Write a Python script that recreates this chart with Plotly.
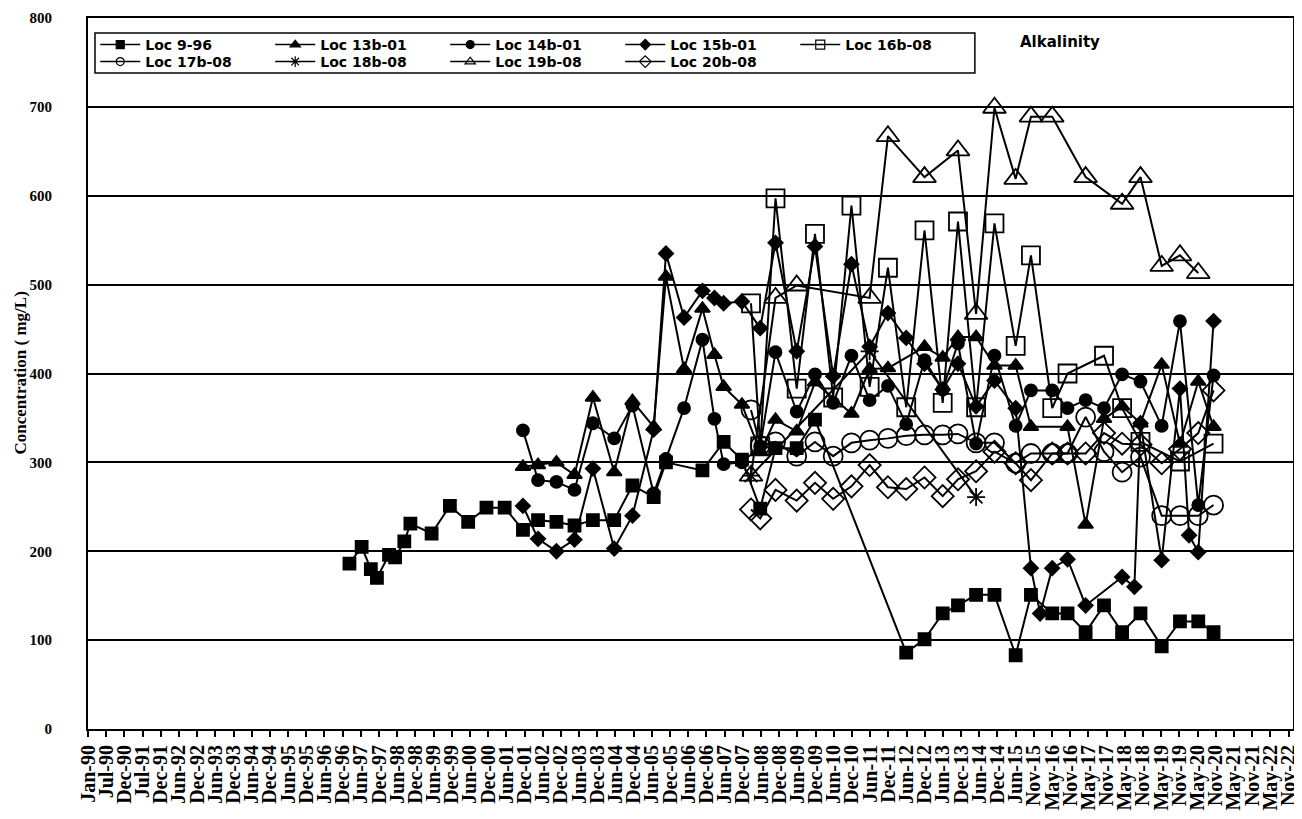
import plotly.graph_objects as go

# ---- data ----
loc9_dates = ["1997-03", "1997-07", "1997-10", "1997-12", "1998-04", "1998-06", "1998-09", "1998-11",
              "1999-06", "1999-12", "2000-06", "2000-12", "2001-06", "2001-12", "2002-05", "2002-11",
              "2003-05", "2003-11", "2004-06", "2004-12", "2005-07", "2005-11", "2006-11", "2007-06",
              "2007-12", "2008-06", "2008-11", "2009-06", "2009-12", "2012-06", "2012-12", "2013-06",
              "2013-11", "2014-05", "2014-11", "2015-06", "2015-11", "2016-06", "2016-11", "2017-05",
              "2017-11", "2018-05", "2018-11", "2019-06", "2019-12", "2020-06", "2020-11"]
loc9_vals = [186, 205, 180, 170, 196, 193, 211, 231, 220, 251, 233, 249, 249, 224, 235, 233,
             229, 235, 235, 274, 261, 300, 291, 323, 303, 248, 316, 316, 348, 86, 101, 130,
             139, 151, 151, 83, 151, 130, 130, 109, 139, 109, 130, 93, 121, 121, 109]

loc13_dates = ["2001-12", "2002-05", "2002-11", "2003-05", "2003-11", "2004-06", "2004-12", "2005-07",
               "2005-11", "2006-05", "2006-11", "2007-03", "2007-06", "2007-12", "2008-06", "2008-11",
               "2009-06", "2009-12", "2010-12", "2011-06", "2011-12", "2012-12", "2013-06", "2013-11",
               "2014-05", "2014-11", "2015-06", "2015-11", "2016-11", "2017-05", "2017-11", "2018-05",
               "2018-11", "2019-06", "2019-12", "2020-06", "2020-11"]
loc13_vals = [295, 297, 300, 286, 373, 289, 369, 340, 509, 405, 473, 421, 385, 365, 312, 348,
              335, 390, 355, 405, 406, 430, 418, 441, 441, 409, 409, 340, 340, 230, 349, 363,
              344, 410, 321, 391, 340]

loc14_dates = ["2001-12", "2002-05", "2002-11", "2003-05", "2003-11", "2004-06", "2004-12", "2005-07",
               "2005-11", "2006-05", "2006-11", "2007-03", "2007-06", "2007-12", "2008-06", "2008-11",
               "2009-06", "2009-12", "2010-06", "2010-12", "2011-06", "2011-12", "2012-06", "2012-12",
               "2013-06", "2013-11", "2014-05", "2014-11", "2015-06", "2015-11", "2016-06", "2016-11",
               "2017-05", "2017-11", "2018-05", "2018-11", "2019-06", "2019-12", "2020-06", "2020-11"]
loc14_vals = [336, 280, 278, 269, 344, 327, 364, 265, 304, 361, 438, 349, 298, 300, 318, 424,
              357, 399, 367, 420, 370, 386, 343, 415, 382, 434, 321, 420, 341, 381, 381, 361,
              370, 361, 399, 391, 341, 459, 252, 398]

loc15_dates = ["2001-12", "2002-05", "2002-11", "2003-05", "2003-11", "2004-06", "2004-12", "2005-07",
               "2005-11", "2006-05", "2006-11", "2007-03", "2007-06", "2007-12", "2008-06", "2008-11",
               "2009-06", "2009-12", "2010-06", "2010-12", "2011-06", "2011-12", "2012-06", "2012-12",
               "2013-06", "2013-11", "2014-05", "2014-11", "2015-06", "2015-11", "2016-02", "2016-06",
               "2016-11", "2017-05", "2018-05", "2018-09", "2018-11", "2019-06", "2019-12", "2020-03",
               "2020-06", "2020-11"]
loc15_vals = [251, 214, 200, 213, 293, 203, 240, 337, 535, 463, 493, 485, 479, 481, 451, 547,
              425, 543, 397, 523, 430, 468, 440, 411, 382, 411, 363, 392, 361, 181, 130, 181,
              191, 139, 171, 160, 344, 190, 383, 218, 199, 459]

loc16_dates = ["2008-03", "2008-06", "2008-11", "2009-06", "2009-12", "2010-06", "2010-12", "2011-06",
               "2011-12", "2012-06", "2012-12", "2013-06", "2013-11", "2014-05", "2014-11", "2015-06",
               "2015-11", "2016-06", "2016-11", "2017-11", "2018-05", "2018-11", "2019-12", "2020-11"]
loc16_vals = [479, 318, 597, 383, 557, 373, 589, 385, 519, 362, 561, 367, 571, 362, 569, 431,
              533, 361, 400, 420, 361, 323, 301, 321]

loc17_dates = ["2008-03", "2008-06", "2008-11", "2009-06", "2009-12", "2010-06", "2010-12", "2011-06",
               "2011-12", "2012-06", "2012-12", "2013-06", "2013-11", "2014-05", "2014-11", "2015-06",
               "2015-11", "2016-06", "2016-11", "2017-05", "2017-11", "2018-05", "2018-11", "2019-06",
               "2019-12", "2020-06", "2020-11"]
loc17_vals = [359, 319, 323, 307, 323, 307, 322, 325, 327, 330, 331, 331, 332, 322, 322, 299,
              310, 310, 310, 351, 312, 289, 306, 240, 240, 240, 252]

loc18_dates = ["2008-03", "2011-06", "2014-05"]
loc18_vals = [285, 425, 261]

loc19_dates = ["2008-03", "2008-11", "2009-06", "2011-06", "2011-12", "2012-12", "2013-11", "2014-05",
               "2014-11", "2015-06", "2015-11", "2016-06", "2017-05", "2018-05", "2018-11", "2019-06",
               "2019-12", "2020-06"]
loc19_vals = [285, 485, 499, 485, 667, 621, 651, 467, 699, 619, 689, 689, 621, 591, 621, 521,
              533, 513]

loc20_dates = ["2008-03", "2008-06", "2008-11", "2009-06", "2009-12", "2010-06", "2010-12", "2011-06",
               "2011-12", "2012-06", "2012-12", "2013-06", "2013-11", "2014-05", "2014-11", "2015-06",
               "2015-11", "2016-06", "2016-11", "2017-05", "2017-11", "2018-05", "2018-11", "2019-06",
               "2019-12", "2020-06", "2020-11"]
loc20_vals = [247, 237, 269, 257, 277, 259, 273, 297, 272, 270, 283, 262, 281, 290, 312, 299,
              280, 310, 310, 310, 333, 321, 320, 299, 315, 333, 381]

# name, dates, values, marker symbol, plot marker size, legend marker size, legend row
series = [
    ("Loc 9-96", loc9_dates, loc9_vals, "square", 12, 8, "legend"),
    ("Loc 13b-01", loc13_dates, loc13_vals, "triangle-up", 13, 9, "legend"),
    ("Loc 14b-01", loc14_dates, loc14_vals, "circle", 12, 8, "legend"),
    ("Loc 15b-01", loc15_dates, loc15_vals, "diamond", 11, 8, "legend"),
    ("Loc 16b-08", loc16_dates, loc16_vals, "square-open", 18, 9, "legend"),
    ("Loc 17b-08", loc17_dates, loc17_vals, "circle-open", 19, 8, "legend2"),
    ("Loc 18b-08", loc18_dates, loc18_vals, "asterisk-open", 15, 9, "legend2"),
    ("Loc 19b-08", loc19_dates, loc19_vals, "triangle-up-open", 20, 9, "legend2"),
    ("Loc 20b-08", loc20_dates, loc20_vals, "diamond-open", 17, 9, "legend2"),
]

fig = go.Figure()

for name, dates, vals, symbol, size, leg_size, leg in series:
    fig.add_trace(go.Scatter(
        x=dates,
        y=vals,
        name=name,
        mode="lines+markers",
        line=dict(color="black", width=2),
        marker=dict(symbol=symbol, size=size, color="black",
                    line=dict(color="black", width=1.8)),
        showlegend=False,
    ))
    # legend-only entry with the small markers of the original legend
    fig.add_trace(go.Scatter(
        x=[None],
        y=[None],
        name=name,
        mode="lines+markers",
        line=dict(color="black", width=1.5),
        marker=dict(symbol=symbol, size=leg_size, color="black",
                    line=dict(color="black", width=1.2)),
        legend=leg,
    ))

serif = "Times New Roman, Liberation Serif, serif"
sans = "DejaVu Sans, Arial, sans-serif"

legend_style = dict(
    orientation="h",
    x=0.006,
    xanchor="left",
    yanchor="top",
    bgcolor="rgba(0,0,0,0)",
    borderwidth=0,
    font=dict(family=sans, size=14, color="black", weight="bold"),
    entrywidth=120,
    itemwidth=40,
    tracegroupgap=0,
)

# the page adds an 8px body margin, so the figure is 8px smaller and margins shifted
fig.update_layout(
    width=1294,
    height=811,
    paper_bgcolor="white",
    plot_bgcolor="white",
    margin=dict(l=80, r=9, t=10, b=90),
    font=dict(family=serif, color="black"),
    legend=dict(legend_style, y=0.9845),
    legend2=dict(legend_style, y=0.9606),
    xaxis=dict(
        type="date",
        automargin=False,
        range=["1990-01-01", "2023-01-05"],
        tick0="1990-01-01",
        dtick=182 * 86400000,
        tickformat="%b-%y",
        tickangle=-90,
        ticks="outside",
        ticklen=6,
        tickwidth=1.5,
        tickcolor="black",
        tickfont=dict(family=serif, size=20, color="black", weight="bold"),
        showgrid=False,
        showline=True,
        linecolor="black",
        linewidth=2,
        mirror=True,
        zeroline=False,
    ),
    yaxis=dict(
        automargin=False,
        range=[0, 800],
        dtick=100,
        ticks="",
        ticklabelstandoff=31,
        tickfont=dict(family=serif, size=15, color="black", weight="bold"),
        showgrid=True,
        gridcolor="black",
        gridwidth=1.5,
        showline=True,
        linecolor="black",
        linewidth=2,
        mirror=True,
        zeroline=False,
    ),
    shapes=[dict(type="rect", xref="paper", yref="paper",
                 x0=0.0058, x1=0.736, y0=0.9226, y1=0.979,
                 line=dict(color="black", width=1.5))],
    annotations=[
        dict(text="Alkalinity", xref="paper", yref="paper",
             x=0.772, y=0.966, xanchor="left", yanchor="middle",
             showarrow=False,
             font=dict(family=sans, size=15, color="black", weight="bold")),
        dict(text="Concentration ( mg/L)", xref="paper", yref="paper",
             x=-0.0564, y=0.5, xanchor="center", yanchor="middle",
             textangle=-90, showarrow=False,
             font=dict(family=serif, size=17, color="black", weight="bold")),
    ],
)

fig.write_html("out.html")
